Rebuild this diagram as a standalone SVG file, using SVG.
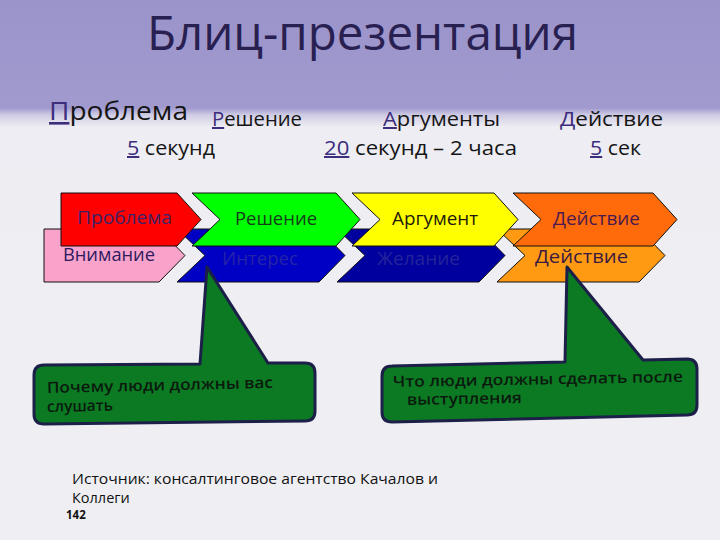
<svg xmlns="http://www.w3.org/2000/svg" width="720" height="540" viewBox="0 0 720 540">
<defs>
<linearGradient id="bg" x1="0" y1="0" x2="0" y2="540" gradientUnits="userSpaceOnUse">
<stop offset="0" stop-color="#9b94ca"/>
<stop offset="0.2" stop-color="#a09acf"/>
<stop offset="0.213" stop-color="#cfcce4"/>
<stop offset="0.235" stop-color="#eeedf3"/>
<stop offset="1" stop-color="#efeff3"/>
</linearGradient>
<style>
text{font-family:"Open Sans","DejaVu Sans",sans-serif}
.title{font-size:48px;fill:#282050;font-weight:500}
.hd{font-size:20px;fill:#151515}
.ul{fill:#3c2d7d;text-decoration:underline}
.sh{stroke:#111;stroke-width:1}
.lbl{font-size:18px}
.call{fill:#0c7a22;stroke:#1c2048;stroke-width:3;stroke-linejoin:round}
.ct{font-size:15.5px;fill:#0b1a0e;font-weight:600}
.src{font-size:14.5px;fill:#111}
</style>
</defs>
<rect width="720" height="540" fill="url(#bg)"/>

<g id="title">
<text class="title" x="147" y="50" textLength="431" lengthAdjust="spacingAndGlyphs">Блиц-презентация</text>
</g>

<g id="header">
<text class="hd" x="49" y="120" textLength="139" lengthAdjust="spacingAndGlyphs" style="font-size:26px"><tspan class="ul">П</tspan>роблема</text>
<text class="hd" x="212" y="126" textLength="90" lengthAdjust="spacingAndGlyphs"><tspan class="ul">Р</tspan>ешение</text>
<text class="hd" x="383" y="126" textLength="117" lengthAdjust="spacingAndGlyphs"><tspan class="ul">А</tspan>ргументы</text>
<text class="hd" x="560" y="126" textLength="103" lengthAdjust="spacingAndGlyphs"><tspan class="ul">Д</tspan>ействие</text>
<text class="hd" x="127" y="155" textLength="88" lengthAdjust="spacingAndGlyphs"><tspan class="ul">5</tspan> секунд</text>
<text class="hd" x="324" y="155" textLength="193" lengthAdjust="spacingAndGlyphs"><tspan class="ul">20</tspan> секунд – 2 часа</text>
<text class="hd" x="590" y="155" textLength="51" lengthAdjust="spacingAndGlyphs"><tspan class="ul">5</tspan> сек</text>
</g>

<g id="attention">
<path class="sh" d="M44,229 H159 L185,255.5 L159,282 H44 Z" fill="#f9a3cb"/>
<text class="lbl" x="63" y="261" fill="#2d1a5e" textLength="92" lengthAdjust="spacingAndGlyphs">Внимание</text>
</g>
<g id="interest">
<path class="sh" d="M177,229 H319 L345,255.5 L319,282 H177 L205,255.5 Z" fill="#0000c4"/>
<text class="lbl" x="222" y="265" fill="#2424a8" textLength="76" lengthAdjust="spacingAndGlyphs">Интерес</text>
</g>
<g id="desire">
<path class="sh" d="M337,229 H479 L505,255.5 L479,282 H337 L365,255.5 Z" fill="#00009e"/>
<text class="lbl" x="377" y="265" fill="#24249a" textLength="83" lengthAdjust="spacingAndGlyphs">Желание</text>
</g>
<g id="action2">
<path class="sh" d="M497,229 H639 L665,255.5 L639,282 H497 L525,255.5 Z" fill="#ff9a12"/>
<text class="lbl" x="535" y="263" fill="#3a1a40" textLength="93" lengthAdjust="spacingAndGlyphs">Действие</text>
</g>

<g id="problem">
<path class="sh" d="M61,193 H177 L201,219.5 L177,246 H61 Z" fill="#ff0000"/>
<text class="lbl" x="77" y="224" fill="#3b2266" textLength="95" lengthAdjust="spacingAndGlyphs">Проблема</text>
</g>
<g id="solution">
<path class="sh" d="M192,193 H336 L360,219.5 L336,246 H192 L220,219.5 Z" fill="#00ff00"/>
<text class="lbl" x="235" y="225" fill="#173d1b" textLength="82" lengthAdjust="spacingAndGlyphs">Решение</text>
</g>
<g id="argument">
<path class="sh" d="M352,193 H494 L518,219.5 L494,246 H352 L380,219.5 Z" fill="#ffff00"/>
<text class="lbl" x="392" y="225" fill="#1e1a10" textLength="86" lengthAdjust="spacingAndGlyphs">Аргумент</text>
</g>
<g id="action1">
<path class="sh" d="M513,193 H653 L677,219.5 L653,246 H513 L541,219.5 Z" fill="#ff6a0a"/>
<text class="lbl" x="553" y="225" fill="#4a1a50" textLength="87" lengthAdjust="spacingAndGlyphs">Действие</text>
</g>

<g id="callout-left">
<path class="call" d="M44,365 L200,364 L207,267 L268,363 L305,363 Q315,363 315,373 L315,411 Q315,421 305,421 L44,424 Q34,424 34,414 L34,375 Q34,365 44,365 Z"/>
<text class="ct" x="47" y="393" transform="rotate(-1.3 47 393)" textLength="226" lengthAdjust="spacingAndGlyphs">Почему люди должны вас</text>
<text class="ct" x="47" y="412" transform="rotate(-1.3 47 412)">слушать</text>
</g>

<g id="callout-right">
<path class="call" d="M392,366 L565,362 L567,267 L643,360 L687,359 Q697,359 697,369 L697,405 Q697,415 687,415 L392,422 Q382,422 382,412 L382,376 Q382,366 392,366 Z"/>
<text class="ct" x="393" y="387" transform="rotate(-1 393 387)" textLength="290" lengthAdjust="spacingAndGlyphs">Что люди должны сделать после</text>
<text class="ct" x="407" y="405" transform="rotate(-1 407 405)" textLength="115" lengthAdjust="spacingAndGlyphs">выступления</text>
</g>

<g id="source">
<text class="src" x="72" y="484" textLength="366" lengthAdjust="spacingAndGlyphs">Источник: консалтинговое агентство Качалов и</text>
<text class="src" x="72" y="503">Коллеги</text>
<text x="66" y="519" style="font-size:11.5px;font-weight:bold;fill:#111">142</text>
</g>
</svg>
